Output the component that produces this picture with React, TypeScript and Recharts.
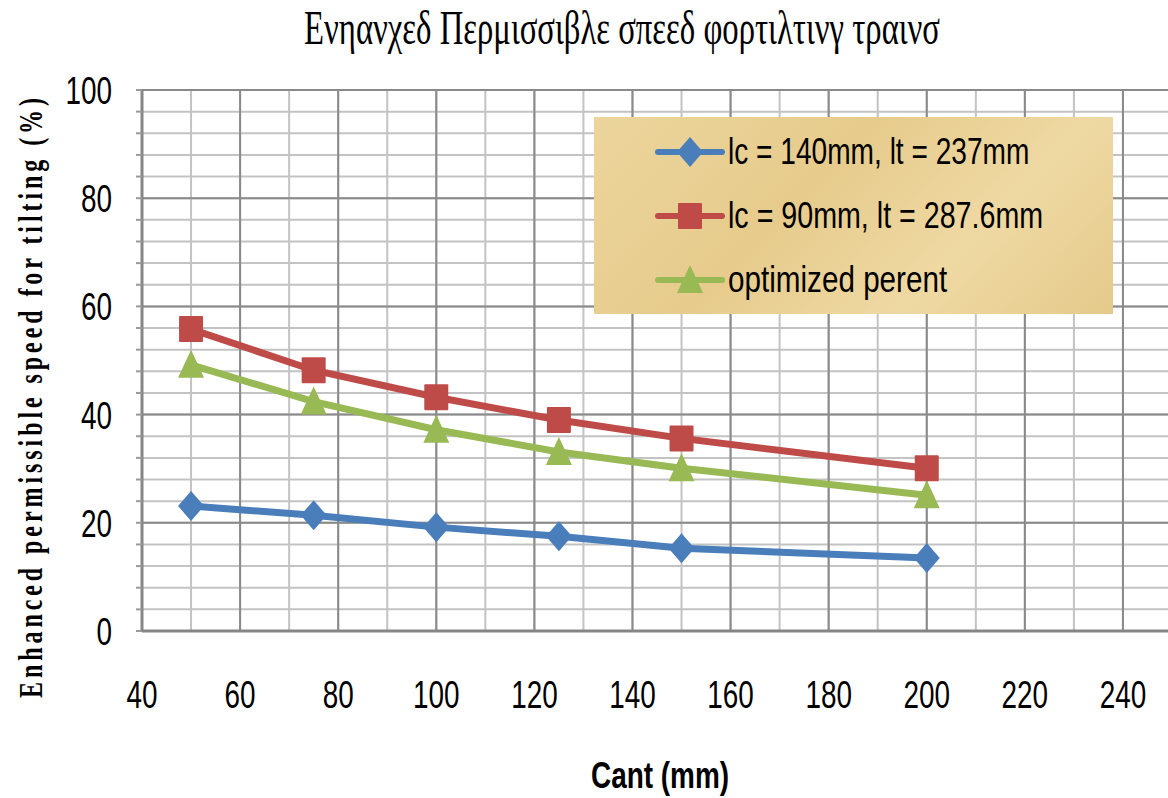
import React from "react";
import { LineChart, Line, XAxis, YAxis, CartesianGrid, Legend } from "recharts";

const cant = [50, 75, 100, 125, 150, 200];
const seriesBlue = [23.1, 21.4, 19.2, 17.5, 15.3, 13.5];
const seriesRed = [55.8, 48.2, 43.2, 39.0, 35.6, 30.1];
const seriesGreen = [49.2, 42.4, 37.2, 33.1, 30.1, 25.1];

const seriesNames = ["lc = 140mm, lt = 237mm", "lc = 90mm, lt = 287.6mm", "optimized perent"];
const seriesColors = ["#4a7ebb", "#be4b48", "#98b954"];
const seriesKeys = ["blue", "red", "green"];
const seriesShapes = ["diamond", "square", "triangle"];

const xTicks = [40, 60, 80, 100, 120, 140, 160, 180, 200, 220, 240];
const xMinorGrid = [40, 50, 60, 70, 80, 90, 100, 110, 120, 130, 140, 150, 160, 170, 180, 190, 200, 210, 220, 230, 240, 250];
const xMajorGrid = [40, 60, 80, 100, 120, 140, 160, 180, 200, 220, 240];
const yMinorGrid = [0, 4, 8, 12, 16, 20, 24, 28, 32, 36, 40, 44, 48, 52, 56, 60, 64, 68, 72, 76, 80, 84, 88, 92, 96, 100];
const yMajorGrid = [0, 20, 40, 60, 80, 100];

const titleText = "Ενηανχεδ Περμισσιβλε σπεεδ φορτιλτινγ τραινσ";
const yLabelText = "Enhanced permissible speed for tilting (%)";
const xLabelText = "Cant (mm)";

const data = cant.map((c, i) => ({
  cant: c,
  blue: seriesBlue[i],
  red: seriesRed[i],
  green: seriesGreen[i],
}));

function Marker({ shape, cx, cy, color }: { shape: string; cx: number; cy: number; color: string }) {
  if (shape === "diamond") {
    return <polygon points={`${cx},${cy - 15} ${cx + 13},${cy} ${cx},${cy + 15} ${cx - 13},${cy}`} fill={color} />;
  }
  if (shape === "square") {
    return <rect x={cx - 12} y={cy - 13} width={24} height={26} fill={color} rx={1} />;
  }
  return <polygon points={`${cx},${cy - 15} ${cx + 13},${cy + 13} ${cx - 13},${cy + 13}`} fill={color} />;
}

const makeDot = (shape: string, color: string) => (props: any) => {
  const { cx, cy, index } = props;
  if (cx == null || cy == null) return <g key={index} />;
  return <Marker key={index} shape={shape} cx={cx} cy={cy} color={color} />;
};

const narrowFont = "'Liberation Sans Narrow', 'Liberation Sans', Arial, sans-serif";

const XTick = (props: any) => {
  const { x, y, payload } = props;
  const s = String(payload.value);
  return (
    <g transform={`translate(${x},${y + 77}) scale(1,1.3)`}>
      <text x={0} y={0} textAnchor="middle" fontFamily={narrowFont} fontSize={30} fill="#000"
        textLength={s.length * 15.5} lengthAdjust="spacingAndGlyphs">
        {s}
      </text>
    </g>
  );
};

const YTick = (props: any) => {
  const { x, y, payload } = props;
  if (payload.value % 20 !== 0) return <g />;
  const s = String(payload.value);
  return (
    <g transform={`translate(${x},${y + 14}) scale(1,1.3)`}>
      <text x={0} y={0} textAnchor="end" fontFamily={narrowFont} fontSize={30} fill="#000"
        textLength={s.length * 15.5} lengthAdjust="spacingAndGlyphs">
        {s}
      </text>
    </g>
  );
};

const LegendContent = () => (
  <div style={{ width: 519, height: 197, background: "linear-gradient(135deg, #ecd59c 0%, #e6cb8c 40%, #efd9a3 70%, #e4c98a 100%)" }}>
    <svg width={519} height={197}>
      {seriesNames.map((name, i) => {
        const cy = 35 + i * 64;
        return (
          <g key={name}>
            <line x1={64} y1={cy} x2={128} y2={cy} stroke={seriesColors[i]} strokeWidth={6} strokeLinecap="round" />
            <Marker shape={seriesShapes[i]} cx={96} cy={cy} color={seriesColors[i]} />
            <g transform={`translate(134,${cy + 12}) scale(1,1.3)`}>
              <text x={0} y={0} fontFamily={narrowFont} fontSize={28} fill="#000"
                textLength={name.length * 13.7} lengthAdjust="spacingAndGlyphs">
                {name}
              </text>
            </g>
          </g>
        );
      })}
    </svg>
  </div>
);

export default function App() {
  return (
    <div style={{ position: "absolute", left: 0, top: 0, width: 1168, height: 798, overflow: "hidden", background: "#fff" }}>
      <LineChart width={1180} height={798} data={data} margin={{ top: 90, right: 8, bottom: 107, left: 0 }}>
        <CartesianGrid verticalValues={xMinorGrid} horizontalValues={yMinorGrid} stroke="#c3c3c3" strokeWidth={2} />
        <CartesianGrid verticalValues={xMajorGrid} horizontalValues={yMajorGrid} stroke="#8a8a8a" strokeWidth={2} />
        <XAxis dataKey="cant" type="number" domain={[40, 250]} ticks={xTicks} interval={0}
          height={60} axisLine={{ stroke: "#868686", strokeWidth: 3 }} tickLine={false} tickSize={0} tickMargin={0}
          tick={<XTick />} allowDataOverflow />
        <YAxis type="number" domain={[0, 100]} ticks={yMinorGrid} interval={0} width={142}
          axisLine={{ stroke: "#868686", strokeWidth: 3 }} tickLine={{ stroke: "#9a9a9a", strokeWidth: 2 }} tickSize={6} tickMargin={24}
          tick={<YTick />} />
        <Legend layout="vertical" align="center" verticalAlign="middle" content={<LegendContent />}
          wrapperStyle={{ left: 594, top: 117, width: 519, height: 197 }} />
        {seriesKeys.map((k, i) => (
          <Line key={k} dataKey={k} name={seriesNames[i]} stroke={seriesColors[i]} strokeWidth={7}
            type="linear" dot={makeDot(seriesShapes[i], seriesColors[i])} activeDot={false} isAnimationActive={false} />
        ))}
      </LineChart>
      <svg width={1168} height={798} style={{ position: "absolute", left: 0, top: 0, pointerEvents: "none" }}>
        <g transform="translate(622,44) scale(1,1.45)">
          <text x={0} y={0} textAnchor="middle" fontFamily="'Liberation Serif', 'DejaVu Serif', serif" fontSize={34} fill="#000"
            textLength={636} lengthAdjust="spacingAndGlyphs">
            {titleText}
          </text>
        </g>
        <g transform="translate(42,398) rotate(-90) scale(1,1.4)">
          <text x={0} y={0} textAnchor="middle" fontFamily="'Liberation Serif', 'DejaVu Serif', serif"
            fontWeight="bold" fontSize={24} fill="#000" textLength={600} lengthAdjust="spacing">
            {yLabelText}
          </text>
        </g>
        <g transform="translate(660,788) scale(1,1.4)">
          <text x={0} y={0} textAnchor="middle" fontFamily={narrowFont} fontWeight="bold" fontSize={26} fill="#000"
            textLength={138} lengthAdjust="spacingAndGlyphs">
            {xLabelText}
          </text>
        </g>
      </svg>
    </div>
  );
}
